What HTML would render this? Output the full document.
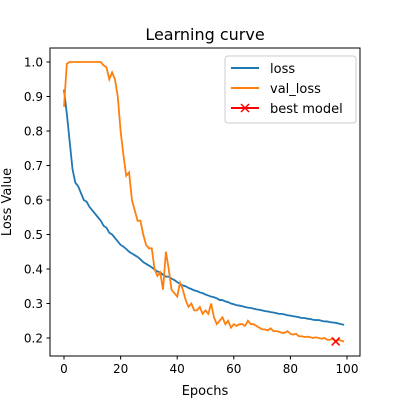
<!DOCTYPE html>
<html><head><meta charset="utf-8"><style>
body{margin:0;background:#fff}
svg{font-family:"DejaVu Sans","Liberation Sans",sans-serif}
</style></head><body>
<svg id="chart" width="400" height="400" xmlns="http://www.w3.org/2000/svg">
<rect width="400" height="400" fill="#fff"/>
<text x="205" y="40" font-size="16" text-anchor="middle">Learning curve</text>
<g id="plot"></g>
<rect x="50" y="48" width="310" height="308" fill="none" stroke="#000" stroke-width="1"/>
<text x="205" y="395" font-size="13" text-anchor="middle">Epochs</text>
<text x="11" y="202" font-size="13" text-anchor="middle" transform="rotate(-90 11 202)">Loss Value</text>
<g>
<rect x="225" y="56" width="131" height="67" rx="3" fill="#fff" fill-opacity="0.8" stroke="#ccc"/>
<line x1="231" y1="68" x2="259" y2="68" stroke="#1f77b4" stroke-width="2"/>
<text x="270" y="73" font-size="13">loss</text>
<line x1="231" y1="88" x2="259" y2="88" stroke="#ff7f0e" stroke-width="2"/>
<text x="270" y="93" font-size="13">val_loss</text>
<line x1="231" y1="108" x2="259" y2="108" stroke="#f00" stroke-width="2"/>
<path d="M241 104L249 112M249 104L241 112" stroke="#f00" stroke-width="1.5"/>
<text x="270" y="113" font-size="13">best model</text>
</g>
</svg>
<script>
const loss=[0.92,0.85,0.77,0.69,0.65,0.64,0.62,0.60,0.595,0.58,0.57,0.56,0.55,0.54,0.525,0.52,0.505,0.50,0.49,0.48,0.47,0.465,0.458,0.45,0.445,0.44,0.435,0.428,0.42,0.415,0.41,0.405,0.398,0.393,0.39,0.383,0.378,0.378,0.372,0.368,0.362,0.357,0.352,0.35,0.345,0.342,0.338,0.336,0.332,0.33,0.326,0.323,0.32,0.318,0.315,0.31,0.31,0.306,0.304,0.3,0.298,0.295,0.294,0.292,0.29,0.288,0.287,0.285,0.283,0.282,0.28,0.278,0.277,0.275,0.274,0.272,0.27,0.27,0.268,0.266,0.265,0.263,0.262,0.26,0.258,0.258,0.256,0.255,0.253,0.252,0.252,0.25,0.248,0.248,0.246,0.245,0.244,0.242,0.24,0.238];
const valLoss=[0.87,0.995,1.0,1.0,1.0,1.0,1.0,1.0,1.0,1.0,1.0,1.0,1.0,1.0,0.99,0.985,0.95,0.97,0.95,0.90,0.80,0.73,0.67,0.68,0.60,0.57,0.54,0.54,0.50,0.47,0.46,0.46,0.40,0.38,0.39,0.34,0.45,0.40,0.34,0.33,0.32,0.36,0.34,0.31,0.29,0.30,0.28,0.28,0.29,0.27,0.28,0.27,0.30,0.26,0.24,0.25,0.26,0.24,0.25,0.23,0.24,0.235,0.24,0.24,0.235,0.25,0.24,0.24,0.235,0.23,0.225,0.225,0.222,0.228,0.22,0.22,0.218,0.215,0.215,0.22,0.212,0.21,0.212,0.205,0.205,0.203,0.204,0.202,0.2,0.202,0.2,0.198,0.2,0.195,0.195,0.198,0.19,0.195,0.192,0.19];
const bestEpoch=[96];
const bestValue=[0.19];
const xTicks=[0,20,40,60,80,100];
const yTicks=[0.2,0.3,0.4,0.5,0.6,0.7,0.8,0.9,1.0];
const xs=v=>64+(v-0)*2.83;
const ys=v=>62+(1.0-v)*345;
const NS='http://www.w3.org/2000/svg';
const g=document.getElementById('plot');
function mk(t,a){const e=document.createElementNS(NS,t);for(const k in a)e.setAttribute(k,a[k]);g.appendChild(e);return e;}
xTicks.forEach(t=>{
 const l=mk('line',{x1:xs(t),x2:xs(t),y1:356,y2:359.5,stroke:'#000'});
 
 
 const tx=mk('text',{x:xs(t),y:373,'font-size':12,'text-anchor':'middle'});tx.textContent=t;
 
 
});
yTicks.forEach(t=>{
 const l=mk('line',{x1:46.5,x2:50,y1:ys(t),y2:ys(t),stroke:'#000'});
 
 
 const tx=mk('text',{x:43,y:ys(t)+4.5,'font-size':12,'text-anchor':'end'});tx.textContent=t.toFixed(1);
 
 
});
const p1=mk('polyline',{points:loss.map((v,i)=>xs(i)+','+ys(v)).join(' '),fill:'none',stroke:'#1f77b4','stroke-width':1.8});


const p2=mk('polyline',{points:valLoss.map((v,i)=>xs(i)+','+ys(v)).join(' '),fill:'none',stroke:'#ff7f0e','stroke-width':1.8});


bestEpoch.forEach((e,i)=>{
 const x=xs(e),y=ys(bestValue[i]);
 const m=mk('path',{d:`M${x-4} ${y-4}L${x+4} ${y+4}M${x+4} ${y-4}L${x-4} ${y+4}`,stroke:'#f00','stroke-width':1.5});
 
 
});
</script>
</body></html>
